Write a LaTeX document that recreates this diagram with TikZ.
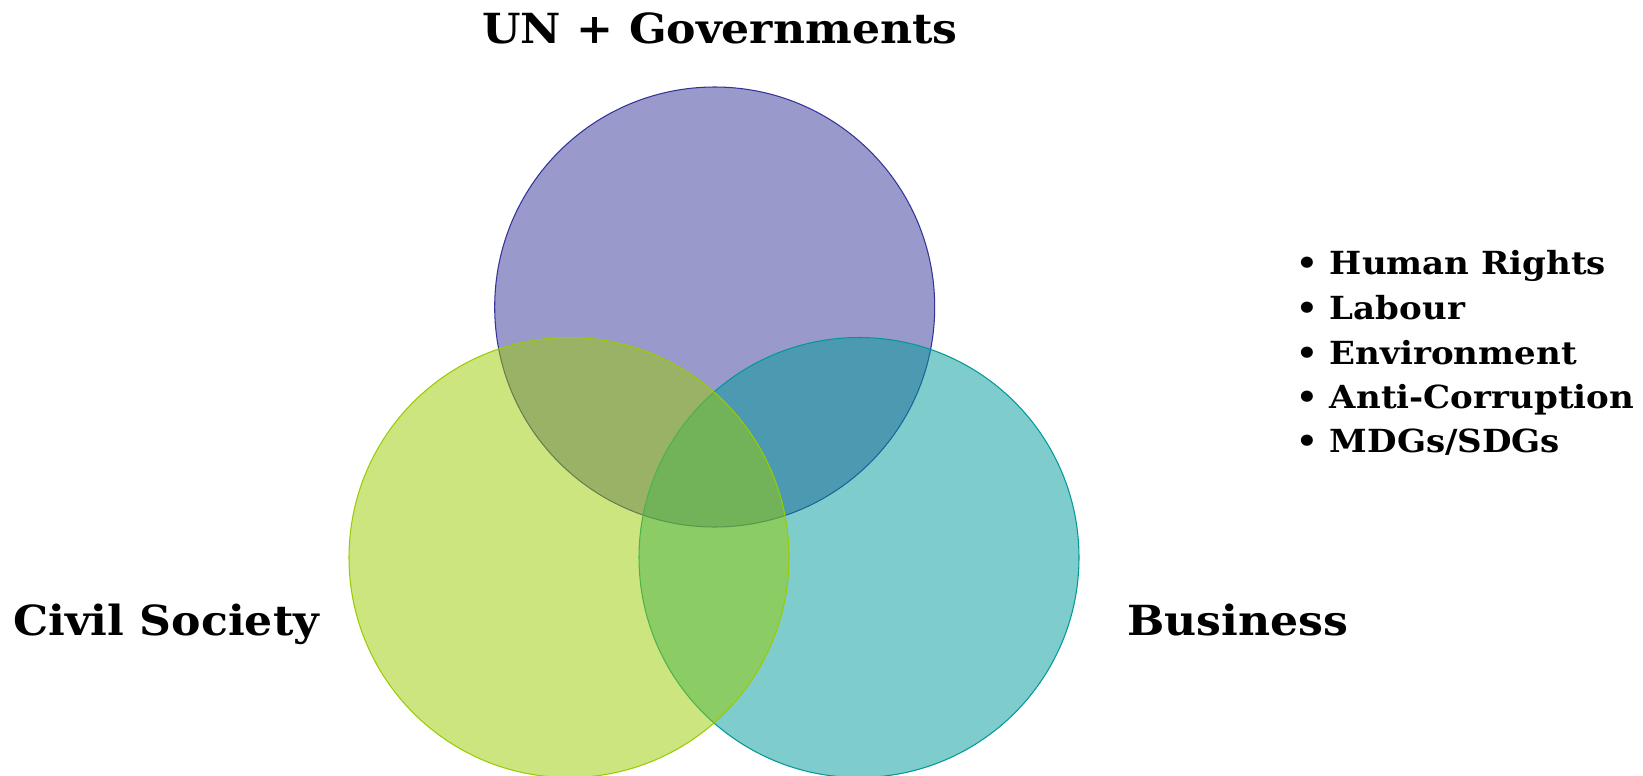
\documentclass[tikz,border=0pt]{standalone}
\usepackage{fontspec}
\setmainfont{DejaVu Serif}
\newfontfamily\widefont[FakeStretch=1.065]{DejaVu Serif}
\newfontfamily\listfont[FakeStretch=1.07]{DejaVu Serif}
\definecolor{ungov}{RGB}{51,51,153}
\definecolor{civil}{RGB}{153,204,0}
\definecolor{busi}{RGB}{0,153,153}
\newcommand{\bigtxt}{\widefont\fontsize{23.6}{28}\selectfont\bfseries}
\newcommand{\listtxt}{\listfont\fontsize{18.1}{21}\selectfont\bfseries}

\begin{document}
\begin{tikzpicture}[scale=0.2]
        \tikzstyle{every node}+=[inner sep=0pt]
        \tikzstyle{ring}=[line width=0.6pt, fill opacity=0.5]
        \useasboundingbox (0,0) rectangle (164.3,-77.6);
        % the three circles, green one on top
        \draw [ring, ungov, fill=ungov] (71.47,-30.7) circle (22);
        \draw [ring, busi, fill=busi] (85.9,-55.75) circle (22);
        \draw [ring, civil, fill=civil] (56.9,-55.75) circle (22);
        % labels
        \node (ungovlbl) [anchor=base] at (72.0,-4.3) {\bigtxt UN + Governments};
        \node (civillbl) [anchor=base west] at (1.3,-63.5) {\bigtxt Civil Society};
        \node (busilbl) [anchor=base west] at (112.7,-63.5) {\bigtxt Business};
        % principles
        \node (rights) [anchor=base west] at (129.6,-27.4) {\listtxt • Human Rights};
        \node (labour) [anchor=base west] at (129.6,-31.9) {\listtxt • Labour};
        \node (envir) [anchor=base west] at (129.6,-36.4) {\listtxt • Environment};
        \node (corrupt) [anchor=base west] at (129.6,-40.8) {\listtxt • Anti-Corruption};
        \node (goals) [anchor=base west] at (129.6,-45.2) {\listtxt • MDGs/SDGs};
\end{tikzpicture}
\end{document}
